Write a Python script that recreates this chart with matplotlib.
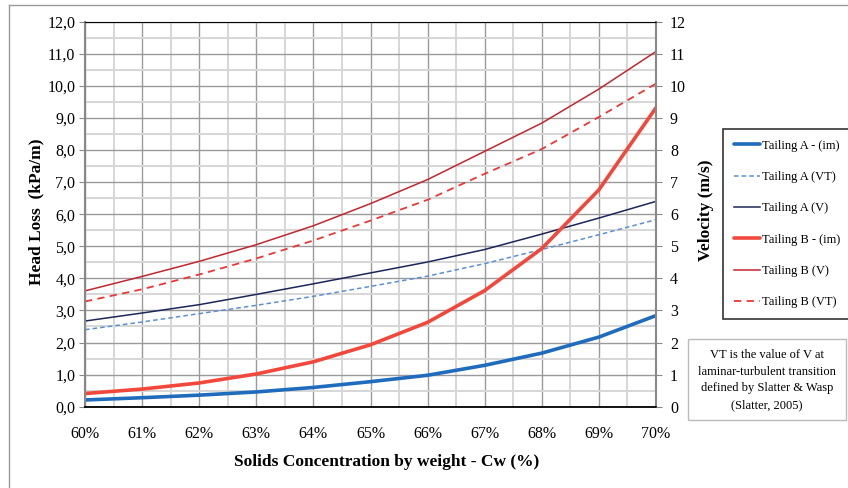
import matplotlib
matplotlib.use("Agg")
import matplotlib.pyplot as plt
from matplotlib.patches import Rectangle
from matplotlib.lines import Line2D
from matplotlib.ticker import MultipleLocator, FuncFormatter

plt.rcParams['font.family'] = ['Liberation Serif', 'DejaVu Serif']

# ── data (Cw in %, values in kPa/m or m/s) ──
cw = [60, 61, 62, 63, 64, 65, 66, 67, 68, 69, 70]
tail_a_im = [0.21, 0.28, 0.36, 0.46, 0.60, 0.78, 0.98, 1.29, 1.67, 2.17, 2.84]
tail_a_vt = [2.40, 2.64, 2.90, 3.16, 3.44, 3.75, 4.07, 4.46, 4.90, 5.36, 5.83]
tail_a_v = [2.67, 2.92, 3.18, 3.50, 3.83, 4.17, 4.51, 4.90, 5.38, 5.88, 6.40]
tail_b_im = [0.41, 0.55, 0.74, 1.02, 1.40, 1.93, 2.63, 3.62, 4.93, 6.76, 9.32]
tail_b_v = [3.61, 4.06, 4.53, 5.05, 5.64, 6.33, 7.08, 7.96, 8.84, 9.90, 11.07]
tail_b_vt = [3.28, 3.66, 4.12, 4.62, 5.18, 5.80, 6.45, 7.26, 8.03, 9.03, 10.07]

series_labels = ["Tailing A - (im)", "Tailing A (VT)", "Tailing A (V)",
                 "Tailing B - (im)", "Tailing B (V)", "Tailing B (VT)"]
note_text = ("VT is the value of V at\nlaminar-turbulent transition\n"
             "defined by Slatter & Wasp\n(Slatter, 2005)")

W, H = 848, 488
fig = plt.figure(figsize=(W / 100, H / 100), dpi=100)
ax = fig.add_axes([85 / W, 1 - 406.7 / H, (656 - 85) / W, (406.7 - 21.7) / H])

# grid: light half-steps, darker integer steps
ax.set_xlim(60, 70)
ax.set_ylim(0, 12)
ax.xaxis.set_major_locator(MultipleLocator(1))
ax.xaxis.set_minor_locator(MultipleLocator(0.5))
ax.yaxis.set_major_locator(MultipleLocator(1))
ax.yaxis.set_minor_locator(MultipleLocator(0.5))
ax.grid(which='minor', color='#d6d6d6', lw=1.4, zorder=0)
ax.grid(which='major', color='#9a9a9a', lw=1.0, zorder=0)
ax.set_axisbelow(True)

h1, = ax.plot(cw, tail_a_im, color='#1f6cbc', lw=2.6, solid_capstyle='round')
h2, = ax.plot(cw, tail_a_vt, color='#5b8fd6', lw=1.1, ls=(0, (3, 2)))
h3, = ax.plot(cw, tail_a_v, color='#1c2657', lw=1.1)
h4, = ax.plot(cw, tail_b_im, color='#f2483b', lw=2.6, solid_capstyle='round')
h5, = ax.plot(cw, tail_b_v, color='#c3262e', lw=1.1)
h6, = ax.plot(cw, tail_b_vt, color='#ef3535', lw=1.3, ls=(0, (4, 3)))

ax.yaxis.set_major_formatter(FuncFormatter(lambda v, p: f"{v:.1f}".replace('.', ',')))
ax.xaxis.set_major_formatter(FuncFormatter(lambda v, p: f"{v:.0f}%"))
ax.tick_params(axis='y', which='major', direction='out', length=4, color='#888888',
               labelsize=11.5, pad=3)
ax.tick_params(axis='x', which='major', length=0, labelsize=11.5, pad=14)
ax.tick_params(which='minor', length=0)

for side in ['left', 'right']:
    ax.spines[side].set_color('#888888')
    ax.spines[side].set_linewidth(1.5)
ax.spines['top'].set_color('black')
ax.spines['bottom'].set_color('black')
ax.spines['bottom'].set_linewidth(1.3)

ax2 = ax.twinx()
ax2.set_ylim(0, 12)
ax2.yaxis.set_major_locator(MultipleLocator(1))
ax2.tick_params(axis='y', direction='out', length=4, color='#888888', labelsize=11.5, pad=6)
for s in ax2.spines.values():
    s.set_visible(False)

fig.text(36 / W, 1 - 212 / H, "Head Loss  (kPa/m)", rotation=90, ha='center', va='center',
         fontsize=12.5, fontweight='bold')
fig.text(706 / W, 1 - 210 / H, "Velocity (m/s)", rotation=90, ha='center', va='center',
         fontsize=12.5, fontweight='bold')
fig.text(387 / W, 1 - 462 / H, "Solids Concentration by weight - Cw (%)", ha='center',
         va='center', fontsize=12.5, fontweight='bold')

# legend box
leg = fig.legend([h1, h2, h3, h4, h5, h6], series_labels, loc='upper left',
                 bbox_to_anchor=(723 / W, 1 - 129 / H), fontsize=9, frameon=True,
                 fancybox=False, edgecolor='black', handlelength=2.1, handletextpad=0.15,
                 labelspacing=1.55, borderpad=0.85, borderaxespad=0)
leg.get_frame().set_linewidth(1.2)

# note box
fig.patches.append(Rectangle((688 / W, 1 - 420 / H), (846 - 688) / W, (420 - 339) / H,
                             transform=fig.transFigure, fill=False, edgecolor='#bbbbbb',
                             lw=1.0))
fig.text(767 / W, 1 - 380 / H, note_text, ha='center', va='center', fontsize=9,
         linespacing=1.55)

# outer chart border (cut off at right and bottom)
fig.add_artist(Line2D([9 / W, 9 / W], [0, 1 - 5 / H], transform=fig.transFigure,
                      color='#999999', lw=1.0))
fig.add_artist(Line2D([9 / W, 1], [1 - 5 / H, 1 - 5 / H], transform=fig.transFigure,
                      color='#999999', lw=1.0))

fig.savefig("out.png", dpi=100)
